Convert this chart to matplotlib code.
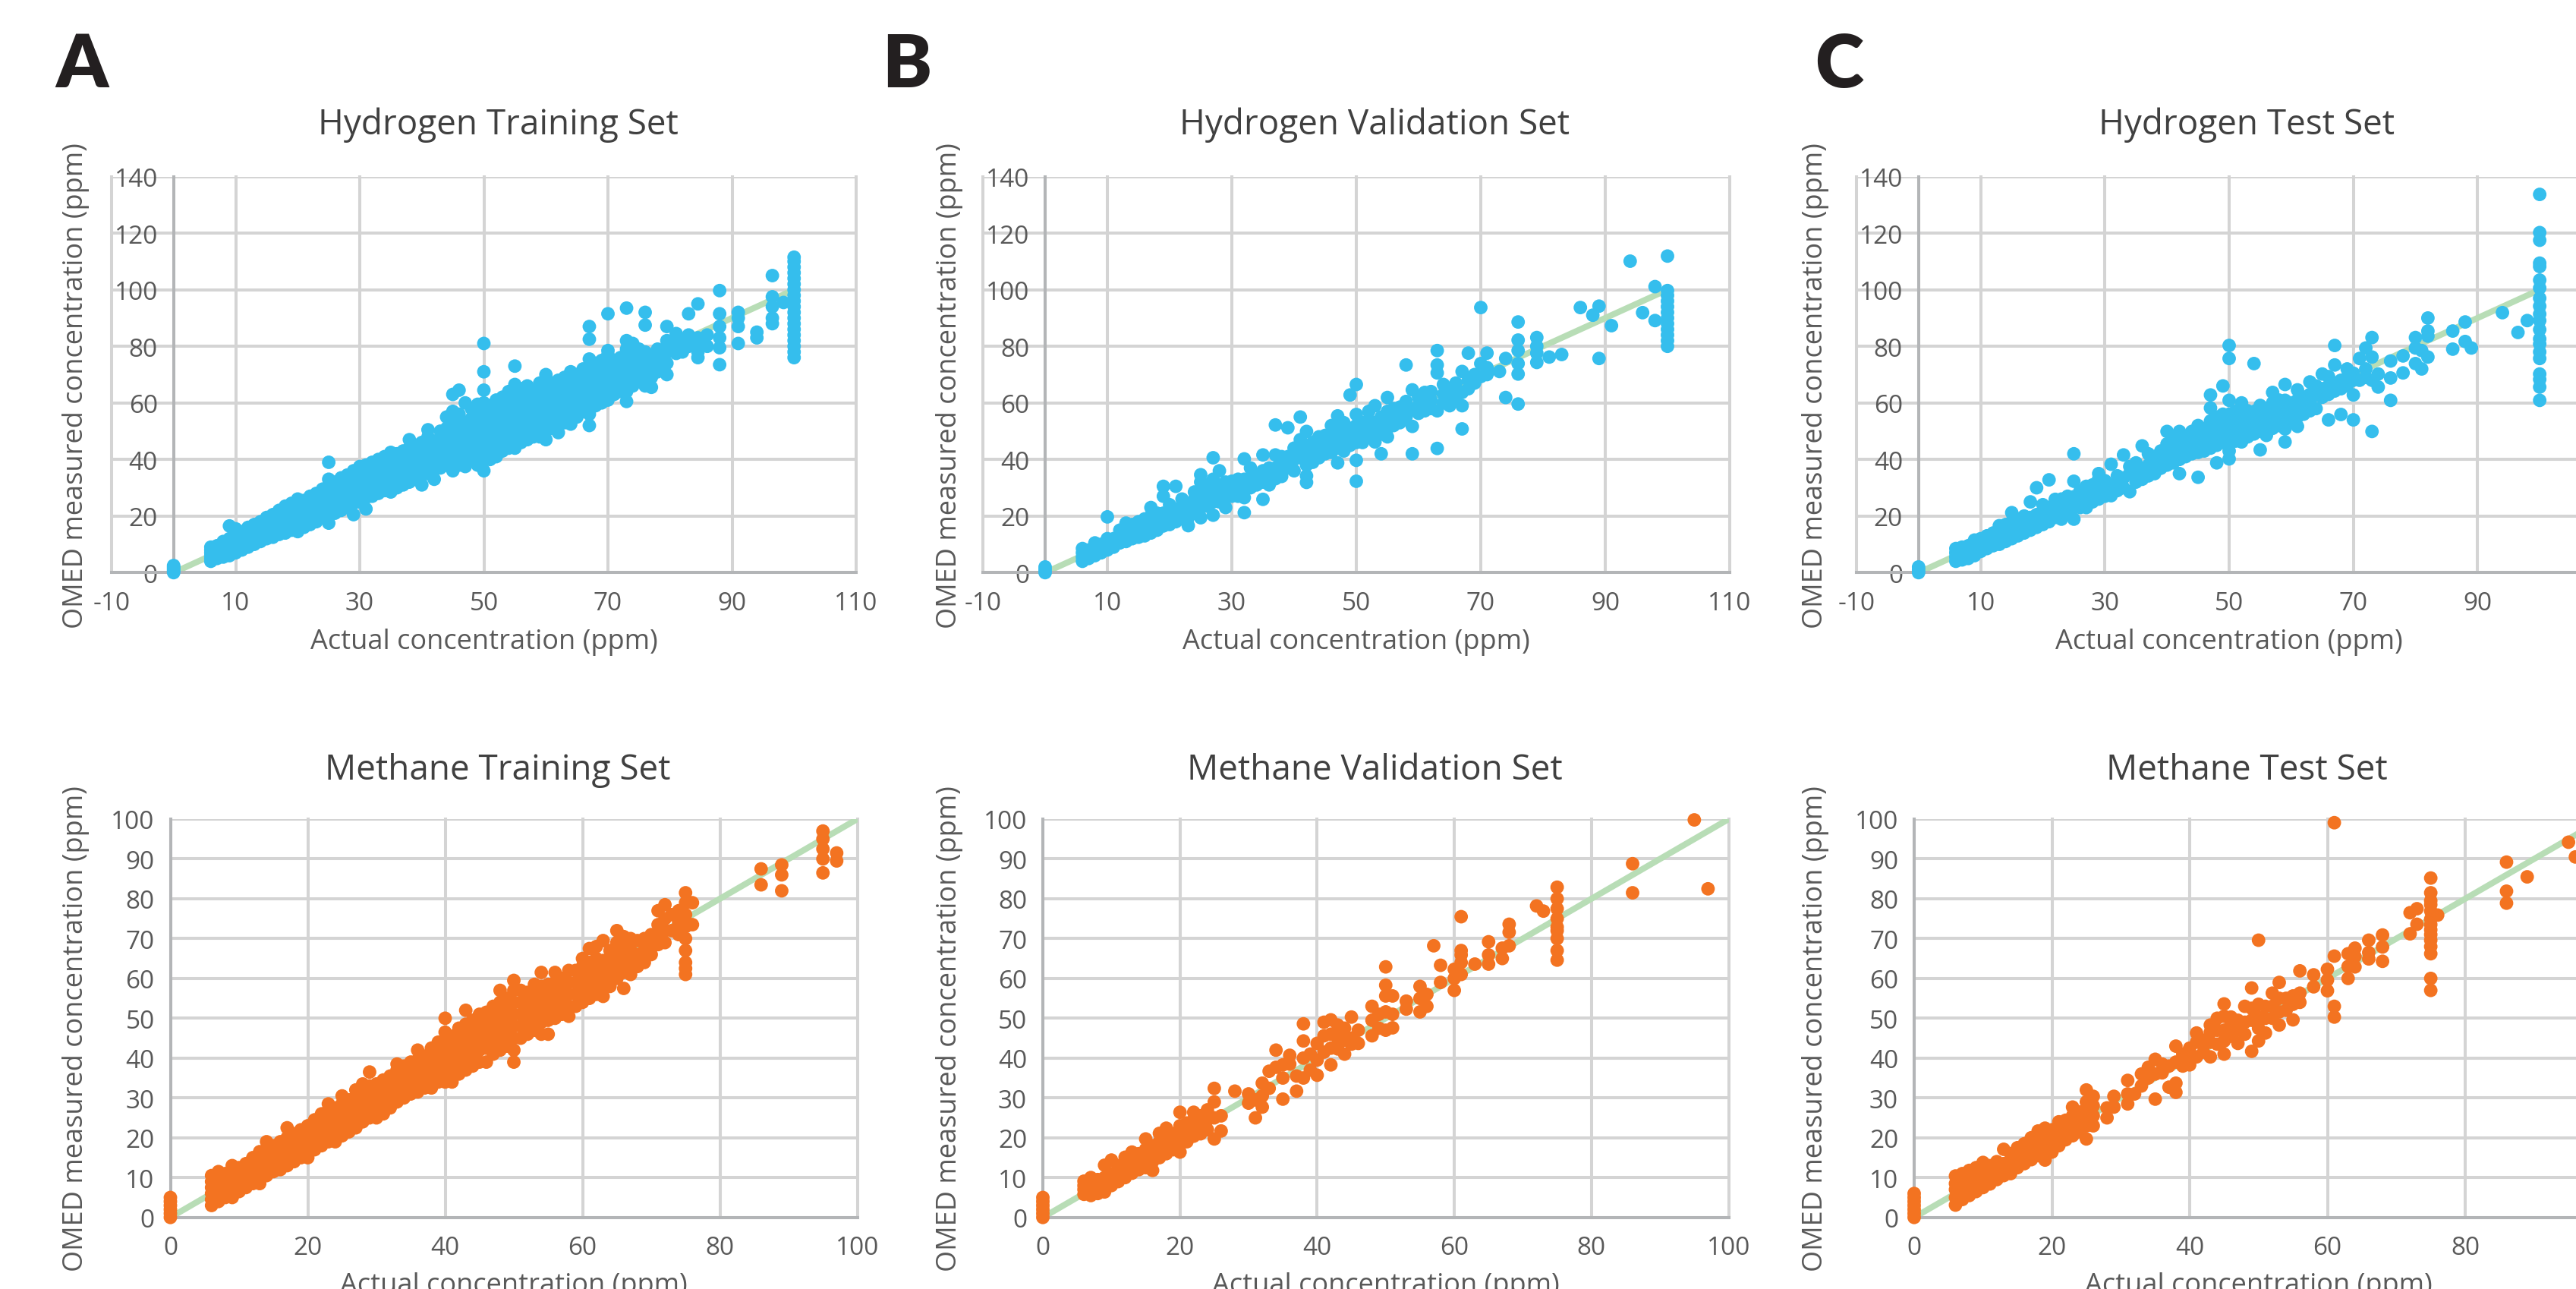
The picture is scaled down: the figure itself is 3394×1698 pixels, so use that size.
import numpy as np
import matplotlib.pyplot as plt

plt.rcParams['axes.unicode_minus'] = False

# figure size in pixels (dpi 100)
W, H = 3394, 1699

# ---- data: (actual concentration, [measured values]) ----
ideal_x = [0, 100]
ideal_y = [0, 100]

h2_train = [
    (0, [0, 0.5, 1, 1.5, 2, 2.5]), (6, [4, 5, 6, 7, 8, 9]), (7, [5, 6.5, 8, 9.5]),
    (8, [5.5, 7, 8.5, 10, 11]), (9, [6, 8, 9.5, 11, 12, 16.5]), (10, [7, 9, 10.5, 12, 13.5, 15.5]),
    (11, [8, 10, 11.5, 13, 14.5]), (12, [9, 11, 12.5, 14, 16]), (13, [10, 12, 13.5, 15, 17]),
    (14, [11, 13, 15, 16.5, 18]), (15, [12, 14, 16, 17.5, 19.5]), (16, [12.5, 15, 17, 19, 20.5]),
    (17, [13.5, 16, 18, 20, 22]), (18, [14, 17, 19, 21, 23.5]), (19, [15, 18, 20, 22, 24.5]),
    (20, [14.5, 17, 19.5, 21.5, 23.5, 26]), (21, [16, 19, 21, 23, 25.5]), (22, [17, 20, 22.5, 24.5, 27]),
    (23, [18, 21, 23.5, 25.5, 28]), (24, [19.5, 22, 24.5, 27, 29.5]),
    (25, [17.5, 20.5, 23.5, 26, 28.5, 31, 33, 39]), (26, [21, 24, 27, 29.5, 32]),
    (27, [22, 25, 28, 30.5, 33.5]), (28, [23, 26, 29, 32, 34.5]), (29, [20.5, 24.5, 27.5, 30.5, 33, 36]),
    (30, [25, 28, 31, 34, 37.5]), (31, [22.5, 26.5, 29.5, 32.5, 35.5, 38]), (32, [27, 30.5, 33.5, 36.5, 39]),
    (33, [28, 31.5, 34.5, 37.5, 40]), (34, [29, 32.5, 35.5, 38.5, 41]), (35, [28.5, 31, 34, 37, 40, 42.5]),
    (36, [30, 33, 36, 39, 42]), (37, [31, 34, 37, 40, 43]), (38, [32, 35, 38, 41, 44, 47]),
    (39, [33, 36, 39, 42, 45]), (40, [31, 34.5, 38, 41, 44, 46]), (41, [35, 38.5, 42, 45, 48, 50.5]),
    (42, [33, 36.5, 40, 43, 46.5]), (43, [37, 40.5, 44, 47, 50]), (44, [38, 41.5, 45, 48, 51, 55]),
    (45, [36, 39.5, 43, 46.5, 50, 53, 57, 63]), (46, [38, 41, 45, 48.5, 52, 56, 64.5]),
    (47, [37.5, 42, 46, 49.5, 53, 60]), (48, [40, 43.5, 47, 51, 54.5, 58]),
    (49, [38, 41.5, 45, 48.5, 52, 56, 59.5]), (50, [36, 40, 44, 48, 52, 56, 60, 64.5, 71, 81]),
    (51, [40, 44, 48, 52, 56, 59]), (52, [41, 45, 49, 53, 57, 61]), (53, [43, 47, 51, 55, 59, 62]),
    (54, [44, 48, 52, 56, 60, 64]), (55, [44, 48, 52, 56, 60, 64, 66.5, 73]),
    (56, [46, 50, 54, 58, 62, 65]), (57, [47, 51, 55, 59, 63, 66]), (58, [48, 52, 56, 60, 64]),
    (59, [48, 52, 56, 60, 64, 67]), (60, [47, 50, 54, 58, 62, 66, 70]), (61, [51, 55, 59, 63, 67]),
    (62, [49.5, 53, 57, 61, 65, 68]), (63, [53, 57, 61, 65, 69]), (64, [52.5, 56, 60, 64, 68, 71]),
    (65, [55, 59, 63, 67, 70]), (66, [57, 61, 65, 69, 72]),
    (67, [52, 56, 60, 64, 68, 72, 75.5, 82.5, 87]), (68, [59, 63, 67, 71, 74]), (69, [60, 64, 68, 72, 75]),
    (70, [61, 65, 69, 73, 77, 78.5, 91.5]), (71, [63, 67, 71, 75]), (72, [64, 68, 72, 76]),
    (73, [60.5, 64, 68, 72, 76, 79, 82, 93.5]), (74, [66, 70, 74, 78, 81]), (75, [68, 72, 76, 79]),
    (76, [66, 70, 74, 78, 87.5, 92]), (77, [65.5, 69, 73, 77]), (78, [71, 75, 79]),
    (79.5, [70, 74, 78, 82, 87]), (81, [77.5, 81, 84.5]), (82, [78, 82]), (83, [80, 84, 91.5]),
    (84.5, [76, 78, 81, 83, 95]), (86, [80, 84]), (88, [73.5, 79.5, 83, 87, 91.5, 99.7]),
    (91, [81, 87, 90, 92]), (94, [83, 85]), (96.5, [88, 90, 94, 97.5, 105]), (98.3, [95.5]),
    (100, [76, 78, 80, 82, 84, 86, 88, 90, 92, 94, 96, 98, 100, 102, 104, 106, 108, 110, 111.5]),
]

h2_valid = [
    (0, [0, 1, 2]), (6, [4, 5.5, 7, 8.5]), (7, [5, 6.5, 8]), (8, [6, 7.5, 9, 10.5]), (9, [7, 8.5, 10]),
    (10, [8, 9.5, 11, 12, 19.7]), (11, [9, 10.5, 12]), (12, [10.5, 12, 13.5, 15]),
    (13, [11, 12.5, 14, 15.5, 17.5]), (14, [12, 13.5, 15, 17]), (15, [12.5, 14, 16, 18]),
    (16, [13, 15, 17, 19]), (17, [14, 16, 18, 20, 23]), (18, [15, 17, 19, 21]),
    (19, [16.5, 18.5, 21, 27, 30.5]), (20, [17, 19, 21.5, 24]), (21, [18, 20, 22.5, 30.5]),
    (22, [19, 21, 23.5, 26]), (23, [16.6, 19.5, 22, 24.5]), (24, [21, 23.5, 26, 28.5]),
    (25, [19.4, 23, 26, 28.5, 32, 34.6]), (26, [23.5, 26, 28.5, 31]), (27, [20.3, 25, 27.5, 30, 33, 40.6]),
    (28, [25, 28, 31, 36]), (29, [23, 27, 29.5, 32]), (30, [27, 29.5, 32.3]), (31, [27, 30, 33]),
    (32, [21.2, 26.5, 29.5, 33, 40.2]), (33, [30, 33.5, 37]), (34, [31, 34.5]),
    (35, [25.9, 32, 36, 41.6]), (36, [31, 34, 37]), (37, [33.2, 37, 41.6, 52.2]), (38, [34, 37.5, 41]),
    (39, [37, 41, 51.2]), (40, [36, 40, 44]), (41, [40.6, 44.5, 47, 55]),
    (42, [31.9, 34.2, 38, 41.5, 45, 49.9]), (43, [39, 43, 46]), (44, [40.6, 44, 48]),
    (45, [42, 45.5, 48.5]), (46, [42.5, 46, 49.5, 52]), (47, [38.8, 44, 47, 50, 55.4]),
    (48, [43, 46.5, 50, 53]), (49, [45, 48, 51, 62.8]), (50, [32.3, 39.7, 46, 49, 52, 55.9, 66.5]),
    (51, [46, 49.5, 53]), (52, [48, 51, 54, 57]), (53, [46.2, 50, 53, 59]), (54, [42, 49, 52, 55]),
    (55, [48, 51, 54, 57, 61.9]), (56, [52, 55.4, 58]), (57, [53, 56, 58.5]),
    (58, [55, 57.5, 60.5, 73.4]), (59, [42, 51.7, 57.5, 64.6]), (60, [56.3, 59, 62]),
    (61, [57.2, 60, 63.7]), (62, [58, 61, 64]), (63, [43.9, 57.2, 70.6, 73.4, 78.5]),
    (64, [60, 63, 66.5]), (65, [59, 62.8, 65]), (66, [61, 64, 67]), (67, [50.8, 59, 63.7, 71.1]),
    (68, [65, 68, 77.6]), (69, [67, 70]), (70, [69.3, 73.9, 93.7]), (71, [70, 72.5, 77.6]),
    (73, [71.1]), (74, [61.9, 75.7]), (76, [59.6, 70.2, 73.9, 78.5, 82.2, 88.6]),
    (79, [74.3, 77.6, 80, 83.1]), (81, [76.2]), (83, [77.1]), (86, [93.7]), (88, [91]),
    (89, [75.7, 94.2]), (91, [87.3]), (94, [110.1]), (96, [91.9]), (98, [89.1, 101.1]),
    (100, [80, 82, 84, 86, 88, 90, 92, 94, 96, 98, 99.7, 111.9]),
]

h2_test = [
    (0, [0, 1, 2]), (6, [4, 5.5, 7, 8.5]), (7, [4.5, 6, 7.5, 9]), (8, [5, 6.5, 8, 9.5]),
    (9, [6, 7.5, 9, 11.5]), (10, [7.5, 9, 10.5, 12]), (11, [8.5, 10, 11.5, 13]),
    (12, [9.5, 11, 12.5, 14]), (13, [10, 12, 13.5, 16.6]), (14, [11, 13, 15, 17]),
    (15, [12, 14, 16, 18, 21.2]), (16, [13, 15, 17, 19]), (17, [14, 16, 18, 20]),
    (18, [15, 17, 19.5, 25]), (19, [16, 18, 20.5, 30]), (20, [17, 19, 21.5, 24]),
    (21, [18, 20.5, 23, 32.8]), (22, [19.5, 22, 25.9]), (23, [18.9, 21, 23.5, 26]),
    (24, [21.5, 24, 27]), (25, [18.9, 23, 26.8, 32.3, 42]), (26, [23, 26, 29]), (27, [23, 27, 30.5]),
    (28, [25, 28, 31]), (29, [26, 29.5, 33.2, 35]), (30, [27, 30, 32.5]), (31, [27.2, 31, 38.3]),
    (32, [29, 32, 34.2]), (33, [30, 33.5, 41.6]), (34, [28.6, 35, 37.5]), (35, [32, 35, 38.8]),
    (36, [33, 36.9, 44.8]), (37, [34.2, 38, 42]), (38, [35, 38.5, 41]), (39, [36.9, 40, 43]),
    (40, [38, 42, 45.5, 49.9]), (41, [38.8, 41, 44.3, 47.5]), (42, [35, 40, 44, 46.5, 49.9]),
    (43, [41, 44.3, 47.5]), (44, [42, 45.5, 49.9]), (45, [33.7, 42.5, 46, 49, 52]),
    (46, [43, 45.2, 48, 50.8]), (47, [44, 47, 50, 53.6, 58.2, 62.8]), (48, [38.8, 45, 48.9, 52, 55]),
    (49, [46, 49, 52, 56, 66]), (50, [40.2, 43, 46.2, 50, 53, 56, 60.9, 75.7, 80.3]),
    (51, [46.5, 50, 53.6, 57]), (52, [46.2, 49, 52, 55, 60]), (53, [48, 51, 54, 57.2]),
    (54, [49, 50.8, 54, 57, 73.9]), (55, [43.4, 50, 53, 56, 59.1]), (56, [48.5, 52, 55, 58]),
    (57, [51, 54, 57, 60, 63.7]), (58, [52, 55.4, 58, 61]), (59, [46.2, 50.8, 54, 57, 60.9, 66.5]),
    (60, [54, 57, 60]), (61, [51.7, 55, 58, 61, 64.6]), (62, [56, 59, 62]), (63, [57.2, 60, 63, 67.4]),
    (64, [58, 62.8, 66]), (65, [62, 65, 70.2]), (66, [54, 63, 66, 69.3]), (67, [64.2, 67, 73.4, 80.3]),
    (68, [55.9, 65, 68]), (69, [66, 69, 72]), (70, [54, 62.8, 68, 70.5]), (71, [68, 75.7]),
    (72, [69, 72, 79.4]), (73, [49.9, 68, 76.2, 83.1]), (74, [65.6, 70.2]), (76, [60.9, 68.8, 74.8]),
    (78, [70.6, 76.6]), (80, [73.9, 79.4, 83.1]), (81, [72, 78.5]), (82, [76.2, 83.6, 85.4, 90]),
    (86, [79, 85.4]), (88, [81.7, 88.6]), (89, [79.4]), (94, [91.9]), (96.5, [84.9]), (98, [89.1]),
    (100, [60.9, 65.6, 68.3, 70.2, 75.7, 78, 80.8, 82.6, 85.9, 89.1, 91.4, 94.2, 97, 100.6,
           103.4, 108.2, 109.4, 117.5, 120.2, 133.7]),
]

ch4_train = [
    (0, [0, 1, 2, 3, 4, 5]), (6, [3, 4.5, 6, 7.5, 9, 10.5]), (7, [4, 5.5, 7, 8.5, 10, 11.5]),
    (8, [5, 6.5, 8, 9.5, 11]), (9, [5, 7, 8.5, 10, 11.5, 13]), (10, [6.5, 8, 9.5, 11, 12.5]),
    (11, [7.5, 9, 10.5, 12, 13.5]), (12, [8.5, 10, 11.5, 13, 15]), (13, [8.5, 10.5, 12, 13.5, 15, 16.5]),
    (14, [10.5, 12, 13.5, 15, 17, 19]), (15, [11.5, 13, 14.5, 16, 18]), (16, [12, 14, 15.5, 17, 19]),
    (17, [13, 15, 16.5, 18, 20, 22.5]), (18, [14, 16, 17.5, 19, 21]), (19, [15, 16.5, 18.5, 20.5, 22]),
    (20, [15, 17, 19, 21, 23]), (21, [17, 19, 21, 23, 24.5]), (22, [18, 20, 22, 24, 26]),
    (23, [19, 21, 23, 25, 27, 28.5]), (24, [19, 21, 23.5, 25.5, 27.5]),
    (25, [20.5, 22.5, 24.5, 26.5, 28.5, 30.5]), (26, [21.5, 23.5, 25.5, 27.5, 29.5]),
    (27, [22.5, 24.5, 26.5, 28.5, 30.5, 32]), (28, [24, 26, 28, 30, 32, 33.5]),
    (29, [25, 27, 29, 31, 33, 36.5]), (30, [25, 27.5, 29.5, 31.5, 33.5]),
    (31, [26, 28.5, 30.5, 32.5, 34.5]), (32, [27.5, 29.5, 31.5, 33.5, 35.5]),
    (33, [29, 31, 33, 35, 37, 38.5]), (34, [30, 32, 34, 36, 38]), (35, [31, 33, 35, 37, 39]),
    (36, [31.5, 33.5, 35.5, 37.5, 39.5, 42]), (37, [32.5, 34.5, 36.5, 38.5, 40.5]),
    (38, [32.5, 35, 37.5, 40, 42.5]), (39, [34, 36.5, 39, 41.5, 44]),
    (40, [34, 36.5, 39, 41.5, 44, 46.5, 50]), (41, [34, 37, 40, 43, 45.5]),
    (42, [36, 39, 42, 45, 47.5]), (43, [37, 40, 43, 46, 48.5, 52]), (44, [38, 41, 44, 47, 49.5]),
    (45, [39, 42, 45, 48, 51]), (46, [39, 42.5, 45.5, 48.5, 51.5]), (47, [41, 44, 47, 50, 53]),
    (48, [42, 45, 48, 51, 54, 57]), (49, [43, 46, 49, 52, 55]),
    (50, [39, 42, 45, 48, 51, 54, 57, 59.5]), (51, [45, 48, 51, 54, 57]),
    (52, [46, 48, 50.5, 53.5, 56.5]), (53, [47, 50, 53, 56, 58.5]), (54, [46, 49, 52, 55, 58, 61.5]),
    (55, [46, 49.5, 52.5, 55.5, 58.5]), (56, [50, 53, 56, 59, 61.5]), (57, [51, 54, 57, 60]),
    (58, [50.5, 53, 56, 59, 62]), (59, [53, 56, 59, 62]), (60, [54, 57, 60, 63, 65]),
    (61, [55, 58, 61, 64, 67.5]), (62, [56, 59, 62, 65, 68]), (63, [55.5, 58.5, 61.5, 64.5, 69.5]),
    (64, [58, 61, 64, 67]), (65, [60, 63, 66, 69, 72]), (66, [57.5, 61.5, 64.5, 67.5, 70.5]),
    (67, [61, 64, 67, 70]), (68, [63, 66, 69.5]), (69, [64, 67, 70]), (70, [66, 69, 71]),
    (71, [68.5, 71.5, 73.5, 77]), (72, [69, 72, 75, 78.5]), (73, [72, 76]), (74, [71, 74, 77]),
    (75, [61, 62.5, 64, 67, 70, 73, 76, 79, 81.5]), (76, [73.5, 79]), (86, [83.5, 87.5]),
    (89, [82, 86, 88.5]), (95, [86.5, 90, 92.5, 95, 97]), (97, [89.5, 91.5]),
]

ch4_valid = [
    (0, [0, 1, 2, 3, 4, 5]), (6, [5.8, 7, 8, 9.1]), (7, [5.5, 7, 8.5, 10]), (8, [6, 7.8, 9.5]),
    (9, [6.4, 8, 10, 13.1]), (10, [8, 9.5, 11, 14.4]), (11, [9, 10.5, 11.8, 13]),
    (12, [10, 11.5, 13, 15.1]), (13, [11.1, 13, 14.5, 16.4]), (14, [12, 14, 16]),
    (15, [12.5, 15, 17.1, 19.7]), (16, [11.8, 14, 16, 18]), (17, [15, 17, 19, 21.1]),
    (18, [16, 17.1, 19.5, 22.4]), (19, [17, 19, 21]), (20, [16.4, 18.5, 21, 23, 26.4]),
    (21, [19, 21.5, 23.7]), (22, [20.4, 22.5, 24.5, 26.4]), (23, [21, 23.4, 25.5]),
    (24, [22, 24.5, 27]), (25, [19.7, 25, 29, 32.4]), (26, [21.7, 25.5]), (28, [31.7]),
    (30, [28.7, 31]), (31, [25, 29.5]), (32, [27.7, 30.5, 33.7]), (33, [32.4, 36.7]),
    (34, [37.7, 42]), (35, [29.7, 35, 38.3]), (36, [38.5, 40.7]), (37, [31.7, 35.5]),
    (38, [35, 40, 44.3, 48.6]), (39, [37, 41]), (40, [35.7, 39.5, 43.7]), (41, [41.5, 45.6, 49]),
    (42, [38.3, 42.5, 46, 49.6]), (43, [42.3, 45, 48.3]), (44, [41, 44.5, 47.5]),
    (45, [43.5, 45, 50.3]), (46, [43.7, 47]), (48, [45.6, 49.5, 53]), (49, [47.5, 51]),
    (50, [47, 51.6, 55.6, 58.3, 62.9]), (51, [47.6, 51, 55.6]), (53, [52.3, 54.3]),
    (55, [51.6, 55, 58]), (56, [53, 56]), (57, [68.2]), (58, [59, 63.3]), (60, [57, 60, 62.3]),
    (61, [61, 64, 65.9, 67, 75.5]), (63, [63.6]), (65, [63.6, 65.9, 69.2]), (67, [65, 67.6]),
    (68, [68.2, 71.6, 73.6]), (72, [78.2]), (73, [76.9]),
    (75, [64.6, 67, 70, 72, 72.9, 75, 77.5, 80, 82.9]), (86, [81.5, 88.8]), (95, [99.8]), (97, [82.5]),
]

ch4_test = [
    (0, [0, 1, 2, 3, 4, 5, 6]), (6, [3.1, 5, 7, 8.5, 10.4]), (7, [4.5, 6.4, 8, 9.5, 11]),
    (8, [5.5, 7.5, 9.5, 11.8]), (9, [6.5, 8, 9.5, 11, 12.5]), (10, [7.5, 9, 10.5, 12, 13.8]),
    (11, [8.4, 10, 11.5, 13]), (12, [9.5, 11, 12.5, 14]), (13, [10.5, 12, 13.5, 17.1]),
    (14, [11, 13.1, 14.5, 16]), (15, [12.5, 14, 15.7, 17.5]), (16, [13.5, 15, 16.5, 18.5]),
    (17, [14.5, 16.5, 18, 20]), (18, [15.5, 17.5, 19.5, 21.7]), (19, [14.4, 17, 19, 20.5, 22.4]),
    (20, [16.4, 18, 20, 22]), (21, [18, 20, 22, 24]), (22, [19.5, 21.5, 24.4]),
    (23, [20.5, 23, 25.5, 27.7]), (24, [21.5, 24, 26.5]), (25, [19.7, 23, 26, 29, 32]),
    (26, [23, 25.5, 28, 30.4]), (28, [25, 27.5]), (29, [27.7, 30.4]), (31, [28.5, 31, 34.4]),
    (32, [31]), (33, [33, 36]), (34, [35, 37.7]), (35, [29.7, 36, 39.7]), (36, [36.3, 38.5]),
    (37, [32.7, 38]), (38, [31.4, 33.7, 39, 43]), (39, [38, 41]), (40, [38.3, 40.5, 42.5]),
    (41, [40.3, 44, 46.3]), (42, [41.5, 44.5]), (43, [40.3, 44, 46.5, 48.3]), (44, [43.5, 47, 50]),
    (45, [41, 44.3, 47, 50.5, 53.6]), (46, [45.5, 48.5, 50.3]), (47, [43.7, 47, 49.5]),
    (48, [46, 49, 53]), (49, [41.7, 49.5, 52.5, 57.6]), (50, [44.3, 47.5, 50.3, 53.5, 69.6]),
    (51, [46.3, 50, 53]), (52, [50, 53, 56.3]), (53, [48.3, 51.6, 55, 59]), (54, [52, 55]),
    (55, [49.6, 53.5, 55.6]), (56, [54, 56.3, 61.9]), (58, [57.9, 60.9]), (60, [56.9, 59.6, 62.3]),
    (61, [50.3, 53, 65.6, 99.1]), (63, [60, 63, 66.2]), (64, [62.9, 65.5, 67.6]),
    (66, [64.9, 66.5, 69.6]), (68, [64.3, 67.9, 70.9]), (72, [71.2, 76.5]), (73, [73.6, 77.5]),
    (75, [57, 60, 66.2, 68, 69.6, 71, 72.2, 73.5, 74.9, 76.9, 78.5, 79.5, 81.5, 85.2]),
    (76, [75.9]), (86, [78.9, 81.9, 89.2]), (89, [85.5]), (95, [94.2]), (96, [90.5]),
]

panel_letters = ['A', 'B', 'C']
h2_titles = ['Hydrogen Training Set', 'Hydrogen Validation Set', 'Hydrogen Test Set']
ch4_titles = ['Methane Training Set', 'Methane Validation Set', 'Methane Test Set']
h2_xticks = [-10, 10, 30, 50, 70, 90, 110]
h2_yticks = [0, 20, 40, 60, 80, 100, 120, 140]
ch4_xticks = [0, 20, 40, 60, 80, 100]
ch4_yticks = [0, 10, 20, 30, 40, 50, 60, 70, 80, 90, 100]
xlabel = 'Actual concentration (ppm)'
ylabel = 'OMED measured concentration (ppm)'

BLUE = '#35BEED'
ORANGE = '#F37321'
GREEN = '#B8DDB6'
GRID = '#D4D4D4'
AXIS = '#B3B5B7'
TICK = '#595959'
TITLE = '#404040'


def flatten(groups):
    xs, ys = [], []
    for x, vals in groups:
        xs += [x] * len(vals)
        ys += vals
    return xs, ys


def fx(px):
    return px / W


def fy(py):
    return 1 - py / H


fig = plt.figure(figsize=(W / 100, H / 100), dpi=100)


def panel(x0, x1, ytop, ybot, groups, color, xlim, xticks, ylim, yticks):
    ax = fig.add_axes([fx(x0), fy(ybot), (x1 - x0) / W, (ybot - ytop) / H])
    ax.patch.set_visible(False)
    xs, ys = flatten(groups)
    ax.plot(ideal_x, ideal_y, color=GREEN, lw=5.8, zorder=2)
    ax.scatter(xs, ys, s=165, color=color, edgecolors='none', zorder=3, clip_on=False)
    ax.set_xlim(xlim)
    ax.set_ylim(ylim)
    ax.set_xticks(xticks)
    ax.set_yticks(yticks)
    ax.grid(True, color=GRID, lw=2.9)
    ax.set_axisbelow(True)
    for gl in ax.get_xgridlines() + ax.get_ygridlines():
        gl.set_clip_on(False)
    ax.spines['left'].set_position(('data', 0))
    ax.spines['top'].set_visible(False)
    ax.spines['right'].set_visible(False)
    for s in ['left', 'bottom']:
        ax.spines[s].set_color(AXIS)
        ax.spines[s].set_linewidth(2.9)
    ax.tick_params(axis='both', length=0, labelsize=24, labelcolor=TICK)
    ax.tick_params(axis='y', pad=15)
    ax.tick_params(axis='x', pad=17)
    for lab in ax.get_xticklabels() + ax.get_yticklabels():
        lab.set_fontfamily('Open Sans')
    return ax


# pixel layout of the six plot areas
top_x = [(147, 1128), (1295, 2279), (2446, 3428)]
bot_x = [(224.5, 1129.5), (1374, 2277.5), (2522, 3429.5)]
title_cx = [656, 1811, 2960]
ylab_cx = [100, 1251, 2392]
letter_x = [73, 1162, 2391]

h2_sets = [h2_train, h2_valid, h2_test]
ch4_sets = [ch4_train, ch4_valid, ch4_test]

for i in range(3):
    x0, x1 = top_x[i]
    panel(x0, x1, 233.6, 755.3, h2_sets[i], BLUE, (-10, 110), h2_xticks, (0, 140), h2_yticks)
    fig.text(fx((x0 + x1) / 2), fy(855), xlabel, ha='center', va='baseline',
             fontsize=26, color=TICK, family='Open Sans')
    fig.text(fx(ylab_cx[i]), fy(508), ylabel, ha='center', va='center', rotation=90,
             fontsize=26, color=TICK, family='Open Sans')
    fig.text(fx(title_cx[i]), fy(177), h2_titles[i], ha='center', va='baseline',
             fontsize=33, color=TITLE, family='Open Sans')
    fig.text(fx(letter_x[i]), fy(115), panel_letters[i], ha='left', va='baseline',
             fontsize=70, color='#231F20', family='Lato', fontweight='heavy')

    x0, x1 = bot_x[i]
    panel(x0, x1, 1080, 1604.7, ch4_sets[i], ORANGE, (0, 100), ch4_xticks, (0, 100), ch4_yticks)
    fig.text(fx((x0 + x1) / 2), fy(1703), xlabel, ha='center', va='baseline',
             fontsize=26, color=TICK, family='Open Sans')
    fig.text(fx(ylab_cx[i]), fy(1355), ylabel, ha='center', va='center', rotation=90,
             fontsize=26, color=TICK, family='Open Sans')
    fig.text(fx(title_cx[i]), fy(1027), ch4_titles[i], ha='center', va='baseline',
             fontsize=33, color=TITLE, family='Open Sans')

fig.savefig('out.png', dpi=100)
